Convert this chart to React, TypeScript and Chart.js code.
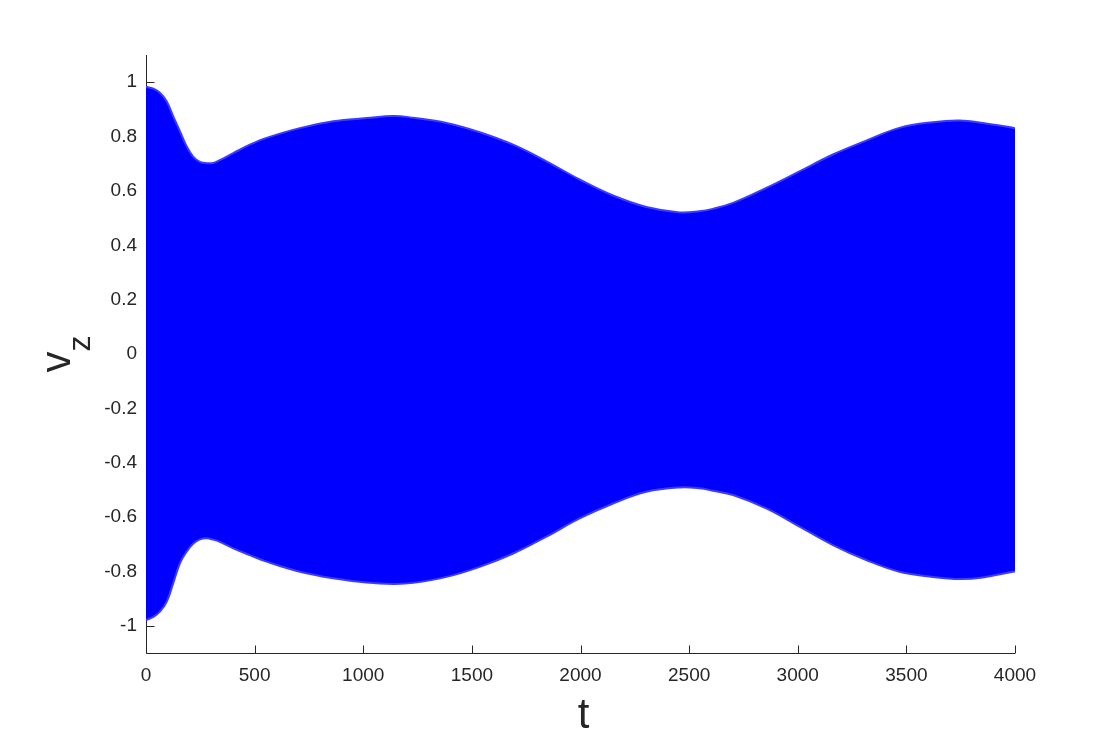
import React, { useEffect, useRef } from "react";
import { Chart, registerables } from "chart.js";

Chart.register(...registerables);

// Envelope of the densely oscillating signal v_z(t)
const times = [
  0, 34, 64, 95, 125, 156, 187, 218, 248, 279, 310, 340, 402, 478, 555, 708,
  862, 1015, 1140, 1230, 1383, 1536, 1690, 1843, 1996, 2150, 2303, 2456, 2548,
  2609, 2702, 2855, 3008, 3162, 3315, 3468, 3622, 3745, 3852, 3990, 4000,
];
const upperEnvelope = [
  0.983, 0.976, 0.961, 0.93, 0.875, 0.82, 0.764, 0.725, 0.707, 0.702, 0.703,
  0.713, 0.739, 0.77, 0.795, 0.831, 0.856, 0.868, 0.876, 0.869, 0.85, 0.816,
  0.77, 0.709, 0.642, 0.583, 0.541, 0.521, 0.525, 0.534, 0.556, 0.611, 0.672,
  0.734, 0.785, 0.832, 0.853, 0.859, 0.85, 0.832, 0.83,
];
const lowerEnvelope = [
  -0.979, -0.967, -0.948, -0.912, -0.844, -0.77, -0.727, -0.697, -0.682,
  -0.678, -0.683, -0.691, -0.715, -0.74, -0.764, -0.801, -0.825, -0.841,
  -0.846, -0.842, -0.82, -0.783, -0.734, -0.672, -0.605, -0.55, -0.507,
  -0.491, -0.494, -0.503, -0.519, -0.568, -0.635, -0.703, -0.758, -0.801,
  -0.82, -0.828, -0.822, -0.801, -0.8,
];

const xTicks = [0, 500, 1000, 1500, 2000, 2500, 3000, 3500, 4000];
const yTicks = [-1, -0.8, -0.6, -0.4, -0.2, 0, 0.2, 0.4, 0.6, 0.8, 1];
const xTitle = "t";
const yTitle = "v";
const ySubscript = "z";

const FONT = '"Liberation Sans", Arial, Helvetica, sans-serif';
const AXIS = "#262626";
const BLUE = "#0000ff";
const EDGE = "#3c3cff";

export default function App() {
  const ref = useRef<HTMLCanvasElement>(null);

  useEffect(() => {
    document.body.style.margin = "0";
    const canvas = ref.current;
    if (!canvas) return;

    const axesPlugin = {
      id: "matlabAxes",
      beforeDatasetsDraw(chart: any) {
        const { ctx, chartArea, scales } = chart;
        const { left, right, top, bottom } = chartArea;
        const L = Math.round(left) + 0.5;
        const B = Math.round(bottom) + 0.5;
        ctx.save();
        ctx.strokeStyle = AXIS;
        ctx.lineWidth = 1;
        ctx.beginPath();
        ctx.moveTo(L, top);
        ctx.lineTo(L, B);
        ctx.lineTo(right, B);
        xTicks.forEach((v) => {
          const px = Math.round(scales.x.getPixelForValue(v)) + 0.5;
          ctx.moveTo(px, B);
          ctx.lineTo(px, B - 8);
        });
        yTicks.forEach((v) => {
          const py = Math.round(scales.y.getPixelForValue(v)) + 0.5;
          ctx.moveTo(L, py);
          ctx.lineTo(L + 8, py);
        });
        ctx.stroke();
        ctx.restore();
      },
      afterDraw(chart: any) {
        const { ctx, chartArea } = chart;
        ctx.save();
        ctx.fillStyle = AXIS;
        // x title
        ctx.font = `42px ${FONT}`;
        ctx.textAlign = "center";
        ctx.textBaseline = "alphabetic";
        ctx.fillText(xTitle, (chartArea.left + chartArea.right) / 2 + 3, 728);
        // y title with subscript, rotated
        ctx.translate(69.5, 372.5);
        ctx.rotate(-Math.PI / 2);
        ctx.textAlign = "left";
        ctx.font = `42px ${FONT}`;
        ctx.fillText(yTitle, 0, 0);
        const w = ctx.measureText(yTitle).width;
        ctx.font = `32px ${FONT}`;
        ctx.fillText(ySubscript, w, 20);
        ctx.restore();
      },
    };

    const chart = new Chart(canvas, {
      type: "line",
      data: {
        datasets: [
          {
            data: times.map((t, i) => ({ x: t, y: upperEnvelope[i] })),
            borderColor: EDGE,
            borderWidth: 2,
            pointRadius: 0,
            fill: false,
            tension: 0.4,
          },
          {
            data: times.map((t, i) => ({ x: t, y: lowerEnvelope[i] })),
            borderColor: EDGE,
            borderWidth: 2,
            pointRadius: 0,
            fill: "-1",
            backgroundColor: BLUE,
            tension: 0.4,
          },
        ],
      },
      options: {
        animation: false,
        responsive: true,
        maintainAspectRatio: false,
        layout: { padding: { left: 0, right: 105, top: 55, bottom: 0 } },
        plugins: {
          legend: { display: false },
          tooltip: { enabled: false },
        },
        scales: {
          x: {
            type: "linear",
            min: 0,
            max: 4000,
            grid: { display: false, drawTicks: false },
            border: { display: false },
            ticks: {
              font: { family: FONT, size: 19 },
              color: AXIS,
              padding: 11,
              maxRotation: 0,
              autoSkip: false,
              callback: (v: any) => String(v),
            },
            afterBuildTicks: (s: any) => {
              s.ticks = xTicks.map((v) => ({ value: v }));
            },
            afterFit: (s: any) => {
              s.height = 83;
            },
          },
          y: {
            type: "linear",
            min: -1.1,
            max: 1.1,
            grid: { display: false, drawTicks: false },
            border: { display: false },
            ticks: {
              font: { family: FONT, size: 19 },
              color: AXIS,
              padding: 9,
              autoSkip: false,
              callback: (v: any) => String(Number(Number(v).toFixed(1))),
            },
            afterBuildTicks: (s: any) => {
              s.ticks = yTicks.map((v) => ({ value: v }));
            },
            afterFit: (s: any) => {
              s.width = 146;
            },
          },
        },
      },
      plugins: [axesPlugin],
    } as any);

    return () => chart.destroy();
  }, []);

  return (
    <div style={{ width: 1120, height: 736, position: "relative", background: "#fff" }}>
      <canvas ref={ref} style={{ width: "100%", height: "100%" }} />
    </div>
  );
}
